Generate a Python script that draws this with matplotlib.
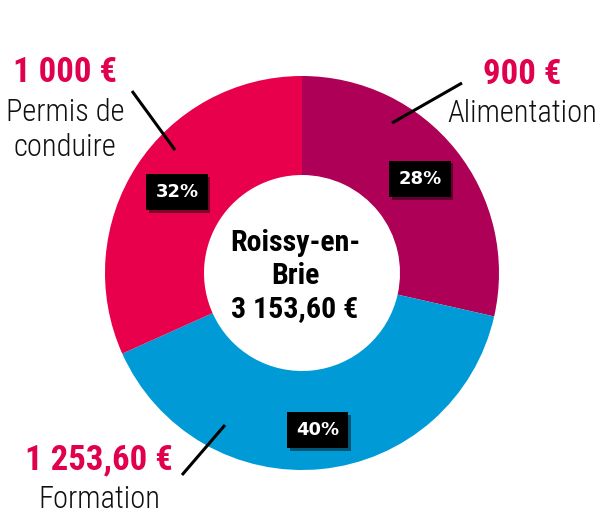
import numpy as np
import matplotlib.pyplot as plt
import matplotlib.patheffects as pe

# Data
categories = ["Alimentation", "Formation", "Permis de\nconduire"]
values = [900, 1253.60, 1000]
amount_labels = ["900 €", "1 253,60 €", "1 000 €"]
pct_labels = ["28%", "40%", "32%"]
colors = ["#ae0056", "#009bd6", "#e8004c"]
center_title = "Roissy-en-\nBrie\n3 153,60 €"

narrow = ["Roboto Condensed", "DejaVu Sans"]

W, H = 599, 517
fig = plt.figure(figsize=(W / 100, H / 100), dpi=100)
ax = fig.add_axes([0, 0, 1, 1])

cx, cy, R = 302, H - 273, 197
wedges, _ = ax.pie(values, colors=colors, startangle=90, counterclock=False,
                   center=(cx, cy), radius=R,
                   wedgeprops=dict(width=99, edgecolor="none"))
ax.set_xlim(0, W)
ax.set_ylim(0, H)
ax.axis("off")

# percentage boxes
label_r = [151, 158, 149]
for w, lab, r in zip(wedges, pct_labels, label_r):
    ang = np.deg2rad((w.theta1 + w.theta2) / 2)
    t = ax.text(cx + r * np.cos(ang), cy + r * np.sin(ang), lab,
                ha="center", va="center", color="white", fontsize=13,
                fontweight="bold", family="DejaVu Sans",
                bbox=dict(boxstyle="square,pad=0.5", fc="black", ec="none"))
    t.get_bbox_patch().set_path_effects(
        [pe.SimplePatchShadow(offset=(2, -2), alpha=0.45), pe.Normal()])

# centre title
ax.text(295, H - 276, center_title, ha="center", va="center",
        fontsize=21.5, fontweight="bold", family=narrow, linespacing=1.22)

red = "#e0004d"
# outside labels: (x, amount y, name y) in pixel layout
layout = [(522, 74, 114), (99, 460, 500), (65, 72, 130)]
for (x, ya, yn), amt, cat in zip(layout, amount_labels, categories):
    ax.text(x, H - ya, amt, ha="center", va="center", color=red,
            fontsize=25, fontweight="bold", family=narrow)
    ax.text(x, H - yn, cat, ha="center", va="center", color="#111111",
            fontsize=22, fontweight="light", family=narrow, linespacing=1.22)

# leader lines
leaders = [((462, 83), (392, 123)), ((225, 425), (182, 475)), ((132, 91), (175, 150))]
for (x0, y0), (x1, y1) in leaders:
    ax.plot([x0, x1], [H - y0, H - y1], color="black", lw=2.2, solid_capstyle="butt")

plt.savefig("out.png", dpi=100)
